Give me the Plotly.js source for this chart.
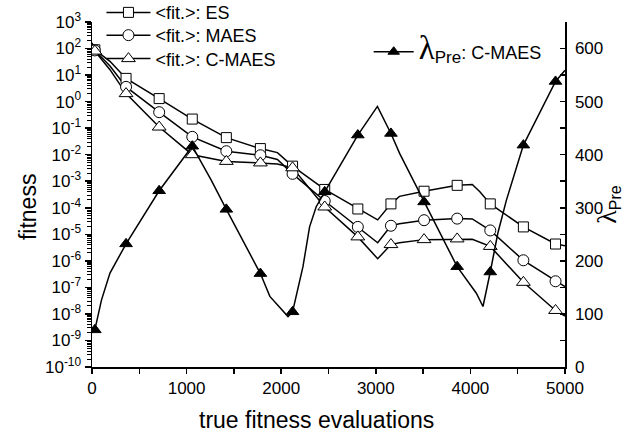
<!DOCTYPE html>
<html><head><meta charset="utf-8">
<script src="https://cdn.plot.ly/plotly-3.0.1.min.js"></script>
<style>html,body{margin:0;padding:0;background:#fff}#chart{width:633px;height:433px}</style>
</head><body><div id="chart"></div>
<script>
// evaluations at which the symbols are drawn
const markerEvals = [30, 360, 710, 1060, 1420, 1780, 2120, 2460, 2810, 3160, 3510, 3860, 4210, 4560, 4900];
// <fit.> values at the symbols (left, log axis)
const esMarkers = [9.0e1, 7.5, 1.3, 2.2e-1, 4.4e-2, 1.7e-2, 3.7e-3, 4.9e-4, 9.0e-5, 1.4e-4, 4.2e-4, 7.0e-4, 1.4e-4, 1.9e-5, 4.3e-6];
const maesMarkers = [8.5e1, 3.6, 4.0e-1, 4.7e-2, 1.35e-2, 9.5e-3, 1.9e-3, 1.8e-4, 1.9e-5, 2.1e-5, 3.4e-5, 3.9e-5, 1.4e-5, 1.05e-6, 1.7e-7];
const cmaesMarkers = [8.0e1, 2.0, 1.1e-1, 1.0e-2, 5.6e-3, 4.9e-3, 3.2e-3, 1.07e-4, 8.0e-6, 4.1e-6, 6.3e-6, 6.7e-6, 3.5e-6, 1.55e-7, 1.35e-8];
// lambda_Pre values at the symbols (right axis)
const lambdaMarkers = [70, 232, 332, 416, 297, 176, 104, 330, 437, 440, 311, 189, 179, 418, 538];

// further points read along the curves between symbols
const esExtraEvals = [0, 190, 1960, 3020, 3250, 4020, 4100, 5000];
const esExtraValues = [1.6e2, 3.3e1, 1.2e-2, 3.5e-5, 2.7e-4, 7.5e-4, 4.0e-4, 3.7e-6];
const maesExtraEvals = [0, 190, 1960, 3020, 3250, 4020, 5000];
const maesExtraValues = [1.6e2, 2.2e1, 6.6e-3, 4.8e-6, 2.5e-5, 3.8e-5, 1.07e-7];
const cmaesExtraEvals = [0, 190, 1960, 3020, 3250, 4020, 5000];
const cmaesExtraValues = [1.6e2, 1.6e1, 4.5e-3, 1.2e-6, 4.8e-6, 6.5e-6, 8.3e-9];
const lambdaExtraEvals = [0, 100, 190, 1260, 1880, 2040, 2072, 2230, 2300, 2370, 3017, 3253, 3358, 4063, 4133, 4290, 4380, 5000];
const lambdaExtraValues = [65, 126, 177, 352, 133, 102, 95, 189, 264, 302, 491, 402, 365, 139, 114, 252, 314, 559];

// left axis tick labels
const fitTickExps = [-10, -9, -8, -7, -6, -5, -4, -3, -2, -1, 0, 1, 2, 3];
const fitTickVals = fitTickExps.map(e => Math.pow(10, e));
const fitTickText = fitTickExps.map(e => '10<sup>' + e + '</sup>');
const fitMinorVals = [];
fitTickExps.slice(0, -1).forEach(e => { for (let k = 2; k <= 9; k++) fitMinorVals.push(k * Math.pow(10, e)); });

const lambdaTickVals = [0, 100, 200, 300, 400, 500, 600];
const lambdaMinorVals = [50, 150, 250, 350, 450, 550, 650];

const seriesNames = ['&lt;fit.&gt;: ES', '&lt;fit.&gt;: MAES', '&lt;fit.&gt;: C-MAES'];
const lambdaName = '<span style="font-family:Liberation Serif;font-size:33px">λ</span><sub><span style="font-size:17px">Pre</span></sub>: C-MAES';

function merge(xa, ya, xb, yb) {
  const pts = xa.map((x, i) => [x, ya[i]]).concat(xb.map((x, i) => [x, yb[i]]));
  pts.sort((a, b) => a[0] - b[0]);
  return {x: pts.map(p => p[0]), y: pts.map(p => p[1])};
}

const FONT = 'Liberation Sans, Arial, sans-serif';
const LW = 1.5;
const traces = [];
const fitSeries = [
  {m: esMarkers, ex: esExtraEvals, ev: esExtraValues, sym: 'square', size: 10, leg: 'legend'},
  {m: maesMarkers, ex: maesExtraEvals, ev: maesExtraValues, sym: 'circle', size: 11, leg: 'legend3'},
  {m: cmaesMarkers, ex: cmaesExtraEvals, ev: cmaesExtraValues, sym: 'triangle-up', size: 12, leg: 'legend4'}
];
fitSeries.forEach((s, i) => {
  const c = merge(markerEvals, s.m, s.ex, s.ev);
  traces.push({x: c.x, y: c.y, mode: 'lines', line: {color: '#000', width: LW}, showlegend: false, hoverinfo: 'skip'});
});
fitSeries.forEach((s, i) => {
  traces.push({x: markerEvals, y: s.m, mode: 'markers', showlegend: false,
    marker: {symbol: s.sym, size: s.size, color: '#fff', line: {color: '#000', width: 1}}});
});
const lc = merge(markerEvals, lambdaMarkers, lambdaExtraEvals, lambdaExtraValues);
traces.push({x: lc.x, y: lc.y, yaxis: 'y2', mode: 'lines', line: {color: '#000', width: LW}, showlegend: false, hoverinfo: 'skip'});
traces.push({x: markerEvals, y: lambdaMarkers, yaxis: 'y2', mode: 'markers', showlegend: false,
  marker: {symbol: 'triangle-up', size: 11, color: '#000', line: {color: '#000', width: 1}}});
// legend entries
fitSeries.forEach((s, i) => {
  traces.push({x: [null], y: [null], mode: 'lines+markers', name: seriesNames[i], legend: s.leg,
    line: {color: '#000', width: LW},
    marker: {symbol: s.sym, size: s.size, color: '#fff', line: {color: '#000', width: 1}}});
});
traces.push({x: [null], y: [null], yaxis: 'y2', mode: 'lines+markers', name: lambdaName, legend: 'legend2',
  line: {color: '#000', width: LW},
  marker: {symbol: 'triangle-up', size: 10, color: '#000', line: {color: '#000', width: 1}}});

function legendAt(x, y) {
  return {x: x, xanchor: 'left', y: y, yanchor: 'middle', bgcolor: 'rgba(0,0,0,0)', borderwidth: 0,
    font: {family: FONT, size: 18, color: '#000'}, itemwidth: 44};
}

const layout = {
  width: 633, height: 433,
  margin: {l: 92, r: 68, t: 22, b: 66, autoexpand: false},
  paper_bgcolor: '#fff', plot_bgcolor: '#fff',
  font: {family: FONT, size: 17, color: '#000'},
  showlegend: true,
  xaxis: {
    range: [0, 5000], tickmode: 'linear', tick0: 0, dtick: 1000,
    showgrid: false, zeroline: false, showline: true, linecolor: '#000', linewidth: 1.5,
    ticks: 'outside', ticklen: 5, tickwidth: 1.5, tickcolor: '#000',
    minor: {ticks: 'outside', dtick: 500, ticklen: 5, tickwidth: 1.5, tickcolor: '#000', showgrid: false},
    tickfont: {size: 17}
  },
  yaxis: {
    type: 'log', range: [-10, 3], tickmode: 'array', tickvals: fitTickVals, ticktext: fitTickText,
    showgrid: false, zeroline: false, showline: true, linecolor: '#000', linewidth: 1.5,
    ticks: 'outside', ticklen: 6, tickwidth: 1.5, tickcolor: '#000',
    minor: {ticks: 'outside', tickmode: 'array', tickvals: fitMinorVals, ticklen: 4, tickwidth: 1, tickcolor: '#000', showgrid: false},
    tickfont: {size: 17}
  },
  yaxis2: {
    overlaying: 'y', side: 'right', anchor: 'x', range: [0, 650], tickmode: 'array',
    tickvals: lambdaTickVals,
    showgrid: false, zeroline: false, showline: true, linecolor: '#000', linewidth: 1.5,
    ticks: 'inside', ticklen: 5, tickwidth: 1.5, tickcolor: '#000', ticklabelstandoff: 5,
    minor: {ticks: 'inside', tickmode: 'array', tickvals: lambdaMinorVals, ticklen: 5, tickwidth: 1.5, tickcolor: '#000', showgrid: false},
    tickfont: {size: 17}
  },
  legend: legendAt(0.02, 1.027),
  legend3: legendAt(0.02, 0.961),
  legend4: legendAt(0.02, 0.893),
  legend2: Object.assign(legendAt(0.585, 0.913), {itemwidth: 40}),
  annotations: [
    {text: 'true fitness evaluations', xref: 'paper', yref: 'paper', x: 0.475, y: -0.155,
      xanchor: 'center', yanchor: 'middle', showarrow: false, font: {family: FONT, size: 23}},
    {text: 'fitness', xref: 'paper', yref: 'paper', x: -0.135, y: 0.464, textangle: -90,
      xanchor: 'center', yanchor: 'middle', showarrow: false, font: {family: FONT, size: 23}},
    {text: '<span style="font-family:Liberation Serif;font-size:28px">λ</span><sub><span style="font-size:16px">Pre</span></sub>',
      xref: 'paper', yref: 'paper', x: 1.09, y: 0.472, textangle: -90,
      xanchor: 'center', yanchor: 'middle', showarrow: false, font: {family: FONT, size: 20}}
  ]
};
Plotly.newPlot('chart', traces, layout, {displayModeBar: false, staticPlot: true});
</script></body></html>
